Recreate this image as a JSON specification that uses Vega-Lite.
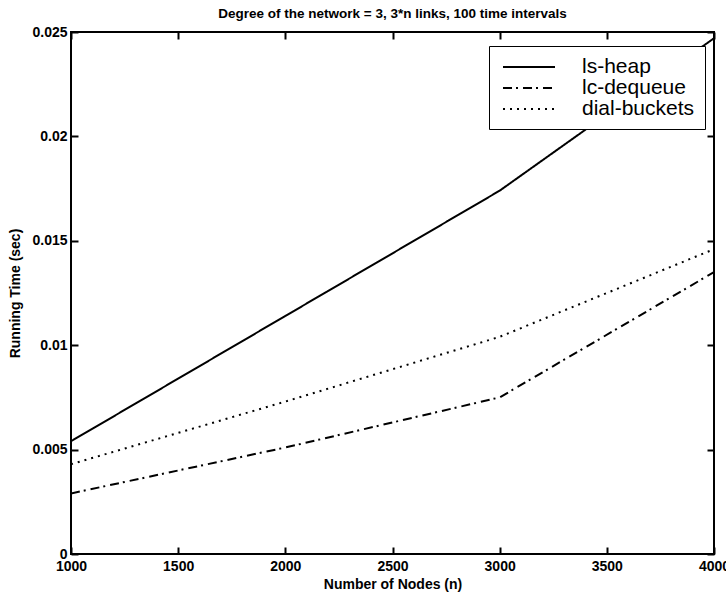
{
  "$schema": "https://vega.github.io/schema/vega-lite/v6.json",
  "width": 643,
  "height": 522,
  "autosize": {"type": "none"},
  "padding": {"left": 71, "top": 32, "right": 12, "bottom": 40},
  "background": "white",
  "title": {
    "text": "Degree of the network = 3, 3*n links, 100 time intervals",
    "font": "Liberation Sans",
    "fontSize": 13.5,
    "fontWeight": "bold",
    "color": "black",
    "offset": 5,
    "anchor": "middle"
  },
  "config": {
    "view": {"stroke": "black", "strokeWidth": 2},
    "axis": {
      "domain": false,
      "grid": false,
      "tickColor": "black",
      "tickWidth": 2,
      "tickSize": -7,
      "labelFont": "Liberation Sans",
      "labelFontSize": 14,
      "labelFontWeight": "bold",
      "labelColor": "black",
      "titleFont": "Liberation Sans",
      "titleFontSize": 14,
      "titleFontWeight": "bold",
      "titleColor": "black"
    }
  },
  "data": {
    "values": [
      {"series": "ls-heap", "n": 1000, "time": 0.0054},
      {"series": "ls-heap", "n": 2000, "time": 0.0114},
      {"series": "ls-heap", "n": 3000, "time": 0.0174},
      {"series": "ls-heap", "n": 4000, "time": 0.0247},
      {"series": "lc-dequeue", "n": 1000, "time": 0.0029},
      {"series": "lc-dequeue", "n": 2000, "time": 0.0051},
      {"series": "lc-dequeue", "n": 3000, "time": 0.0075},
      {"series": "lc-dequeue", "n": 4000, "time": 0.0135},
      {"series": "dial-buckets", "n": 1000, "time": 0.0043},
      {"series": "dial-buckets", "n": 2000, "time": 0.0073},
      {"series": "dial-buckets", "n": 3000, "time": 0.0104},
      {"series": "dial-buckets", "n": 4000, "time": 0.0146}
    ]
  },
  "layer": [
    {
      "mark": {"type": "line", "color": "black", "strokeWidth": 2, "clip": true},
      "encoding": {
        "x": {
          "field": "n", "type": "quantitative",
          "scale": {"domain": [1000, 4000], "nice": false, "zero": false},
          "axis": {"orient": "bottom", "values": [1000, 1500, 2000, 2500, 3000, 3500, 4000], "format": "d", "labelPadding": 12, "title": "Number of Nodes (n)", "titlePadding": 4, "labelFlush": false}
        },
        "y": {
          "field": "time", "type": "quantitative",
          "scale": {"domain": [0, 0.025], "nice": false},
          "axis": {"orient": "left", "values": [0, 0.005, 0.01, 0.015, 0.02, 0.025], "format": "~g", "labelPadding": 11, "title": "Running Time (sec)", "titlePadding": 9}
        },
        "strokeDash": {
          "field": "series", "type": "nominal",
          "scale": {"domain": ["ls-heap", "lc-dequeue", "dial-buckets"], "range": [[1, 0], [9, 4, 2, 5], [2, 5]]},
          "legend": {
            "title": null,
            "orient": "none",
            "legendX": 418,
            "legendY": 14,
            "fillColor": "white",
            "strokeColor": "black",
            "padding": 10,
            "symbolType": "M-2.6,0L2.6,0",
            "symbolSize": 400,
            "symbolStrokeWidth": 2,
            "symbolStrokeColor": "black",
            "symbolOffset": 19,
            "labelFont": "Liberation Sans",
            "labelFontSize": 21,
            "labelColor": "black",
            "labelOffset": 42,
            "labelLimit": 300,
            "rowPadding": -1
          }
        }
      }
    },
    {
      "mark": {"type": "line", "opacity": 0},
      "encoding": {
        "x": {"field": "n", "type": "quantitative", "axis": {"orient": "top", "values": [1000, 1500, 2000, 2500, 3000, 3500, 4000], "labels": false, "title": null}},
        "y": {"field": "time", "type": "quantitative", "axis": {"orient": "right", "values": [0, 0.005, 0.01, 0.015, 0.02, 0.025], "labels": false, "title": null}},
        "detail": {"field": "series"}
      }
    }
  ],
  "resolve": {"axis": {"x": "independent", "y": "independent"}}
}
